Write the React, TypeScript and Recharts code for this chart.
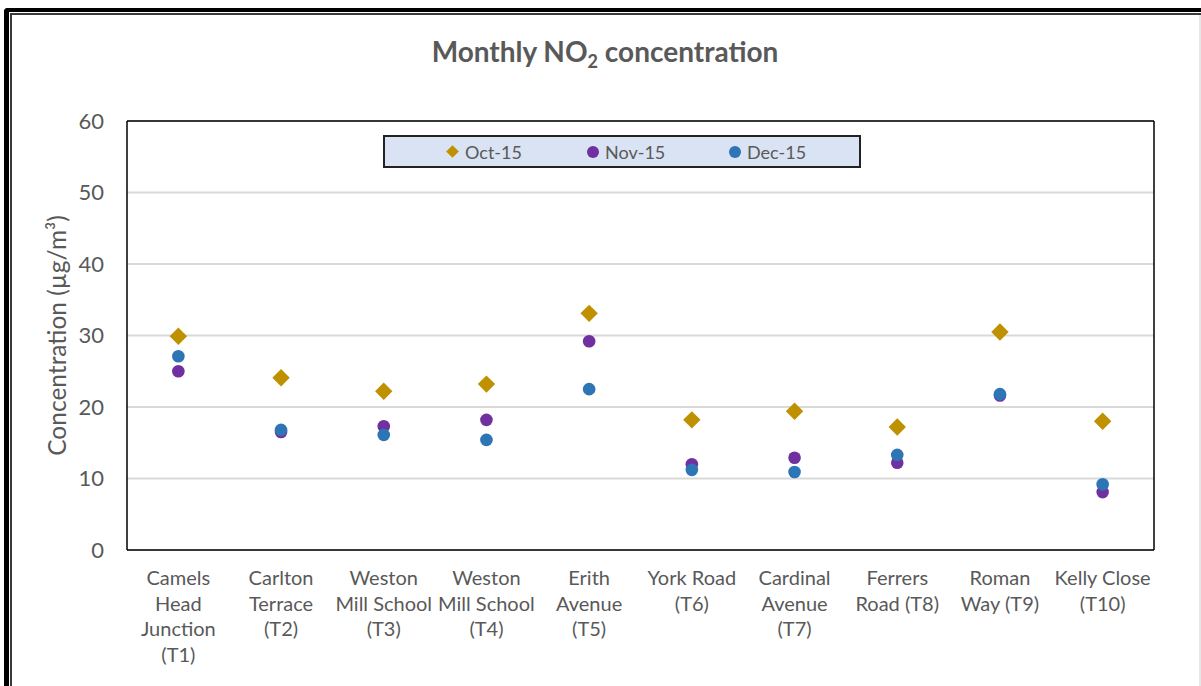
import React from "react";
import {
  ComposedChart,
  Scatter,
  XAxis,
  YAxis,
  CartesianGrid,
  Legend,
} from "recharts";

const categories = [
  "Camels\nHead\nJunction\n(T1)",
  "Carlton\nTerrace\n(T2)",
  "Weston\nMill School\n(T3)",
  "Weston\nMill School\n(T4)",
  "Erith\nAvenue\n(T5)",
  "York Road\n(T6)",
  "Cardinal\nAvenue\n(T7)",
  "Ferrers\nRoad (T8)",
  "Roman\nWay (T9)",
  "Kelly Close\n(T10)",
];
const oct15 = [29.9, 24.1, 22.2, 23.2, 33.1, 18.2, 19.4, 17.2, 30.5, 18.0];
const nov15 = [25.0, 16.5, 17.3, 18.2, 29.2, 12.0, 12.9, 12.2, 21.6, 8.1];
const dec15 = [27.1, 16.8, 16.1, 15.4, 22.5, 11.2, 10.9, 13.3, 21.8, 9.2];
const yTicks = [0, 10, 20, 30, 40, 50, 60];
const seriesNames = ["Oct-15", "Nov-15", "Dec-15"];

const data = categories.map((name, i) => ({
  name,
  oct: oct15[i],
  nov: nov15[i],
  dec: dec15[i],
}));

const FONT = "Lato, 'Open Sans', 'DejaVu Sans', sans-serif";
const TEXT = "#595959";
const GOLD = "#BF9000";
const PURPLE = "#7030A0";
const BLUE = "#2E75B6";

const Diamond = (p: any) => {
  const r = 8.7;
  if (p.cx == null || p.cy == null) return null;
  return (
    <path
      d={`M${p.cx},${p.cy - r}L${p.cx + r},${p.cy}L${p.cx},${p.cy + r}L${p.cx - r},${p.cy}Z`}
      fill={GOLD}
    />
  );
};
const makeCircle = (color: string) => (p: any) => {
  if (p.cx == null || p.cy == null) return null;
  return <circle cx={p.cx} cy={p.cy} r={6.3} fill={color} />;
};
const NovDot = makeCircle(PURPLE);
const DecDot = makeCircle(BLUE);

const XTick = (props: any) => {
  const { x, y, payload } = props;
  const lines = String(payload.value).split("\n");
  return (
    <text
      x={x}
      y={y + 35}
      textAnchor="middle"
      fill={TEXT}
      fontSize={20}
      fontFamily={FONT}
    >
      {lines.map((l, i) => (
        <tspan key={i} x={x} dy={i === 0 ? 0 : 25.7}>
          {l}
        </tspan>
      ))}
    </text>
  );
};

const YLabel = (props: any) => {
  const vb = props.viewBox || {};
  const cx = vb.x + 46;
  const cy = vb.y + vb.height / 2;
  return (
    <text
      x={cx}
      y={cy}
      textAnchor="middle"
      dominantBaseline="central"
      transform={`rotate(-90, ${cx}, ${cy})`}
      fill={TEXT}
      fontSize={24.5}
      fontFamily={FONT}
    >
      Concentration (µg/m³)
    </text>
  );
};

const LegendBox = () => {
  const items = [
    { name: seriesNames[0], color: GOLD, shape: "diamond", left: 61 },
    { name: seriesNames[1], color: PURPLE, shape: "circle", left: 202 },
    { name: seriesNames[2], color: BLUE, shape: "circle", left: 344 },
  ];
  return (
    <div
      style={{
        position: "relative",
        width: 474,
        height: 29,
        background: "#DAE3F3",
        border: "2px solid #222",
        fontFamily: FONT,
        fontSize: 18,
        color: TEXT,
      }}
    >
      {items.map((it) => (
        <div
          key={it.name}
          style={{
            position: "absolute",
            left: it.left,
            top: 0,
            height: 29,
            display: "flex",
            alignItems: "center",
            whiteSpace: "nowrap",
          }}
        >
          {it.shape === "diamond" ? (
            <span
              style={{
                display: "inline-block",
                width: 9,
                height: 9,
                background: it.color,
                transform: "rotate(45deg)",
                marginLeft: 2,
                marginRight: 8,
              }}
            />
          ) : (
            <span
              style={{
                display: "inline-block",
                width: 12,
                height: 12,
                borderRadius: 6,
                background: it.color,
                marginRight: 6,
              }}
            />
          )}
          <span>{it.name}</span>
        </div>
      ))}
    </div>
  );
};

export default function App() {
  return (
    <div
      style={{
        position: "absolute",
        left: 0,
        top: 0,
        width: 1201,
        height: 686,
        overflow: "hidden",
        background: "#fff",
      }}
    >
      <div
        style={{
          position: "absolute",
          left: 4,
          top: 8,
          width: 1400,
          height: 900,
          borderTop: "4px solid #000",
          borderLeft: "5px solid #000",
          borderTopLeftRadius: 4,
        }}
      />
      <div
        style={{
          position: "absolute",
          left: 10,
          top: 13,
          width: 1400,
          height: 900,
          borderTop: "2px solid #3a3a3a",
          borderLeft: "2px solid #3a3a3a",
        }}
      />
      <div
        style={{
          position: "absolute",
          left: 1199,
          top: 15,
          width: 2,
          height: 700,
          background: "#E6E6E6",
        }}
      />
      <div
        style={{
          position: "absolute",
          left: 0,
          top: 37,
          width: 1210,
          textAlign: "center",
          fontFamily: FONT,
          fontWeight: 700,
          fontSize: 28,
          lineHeight: "28px",
          color: TEXT,
        }}
      >
        Monthly NO
        <span
          style={{
            fontSize: 18,
            position: "relative",
            top: 6,
            lineHeight: 0,
          }}
        >
          2
        </span>{" "}
        concentration
      </div>
      <div style={{ position: "absolute", left: 0, top: 0 }}>
        <ComposedChart
          width={1201}
          height={686}
          data={data}
          margin={{ top: 120, right: 46, bottom: 36, left: 10 }}
        >
          <CartesianGrid
            vertical={false}
            stroke="#D9D9D9"
            strokeWidth={2}
          />
          <XAxis
            dataKey="name"
            type="category"
            interval={0}
            height={100}
            padding={{ left: 51.35, right: 51.35 }}
            tickLine={false}
            tickSize={0}
            tickMargin={0}
            axisLine={{ stroke: "#000", strokeWidth: 1.5 }}
            tick={<XTick />}
          />
          <XAxis
            xAxisId="top"
            dataKey="name"
            type="category"
            orientation="top"
            height={1}
            padding={{ left: 51.35, right: 51.35 }}
            tick={false}
            tickLine={false}
            axisLine={{ stroke: "#000", strokeWidth: 1.5 }}
          />
          <YAxis
            domain={[0, 60]}
            ticks={yTicks}
            width={117}
            tickLine={false}
            tickSize={0}
            tickMargin={23}
            axisLine={{ stroke: "#000", strokeWidth: 1.5 }}
            tick={{ fill: TEXT, fontSize: 22, fontFamily: FONT }}
            label={<YLabel />}
          />
          <YAxis
            yAxisId="right"
            orientation="right"
            domain={[0, 60]}
            ticks={yTicks}
            width={1}
            tick={false}
            tickLine={false}
            axisLine={{ stroke: "#000", strokeWidth: 1.5 }}
          />
          <Legend
            layout="horizontal"
            verticalAlign="middle"
            align="center"
            wrapperStyle={{ left: 383, top: 135, width: 478, height: 33 }}
            content={() => <LegendBox />}
          />
          <Scatter
            name={seriesNames[0]}
            dataKey="oct"
            fill={GOLD}
            shape={Diamond}
            isAnimationActive={false}
          />
          <Scatter
            name={seriesNames[1]}
            dataKey="nov"
            fill={PURPLE}
            shape={NovDot}
            isAnimationActive={false}
          />
          <Scatter
            name={seriesNames[2]}
            dataKey="dec"
            xAxisId="top"
            yAxisId="right"
            fill={BLUE}
            shape={DecDot}
            isAnimationActive={false}
          />
        </ComposedChart>
      </div>
    </div>
  );
}
